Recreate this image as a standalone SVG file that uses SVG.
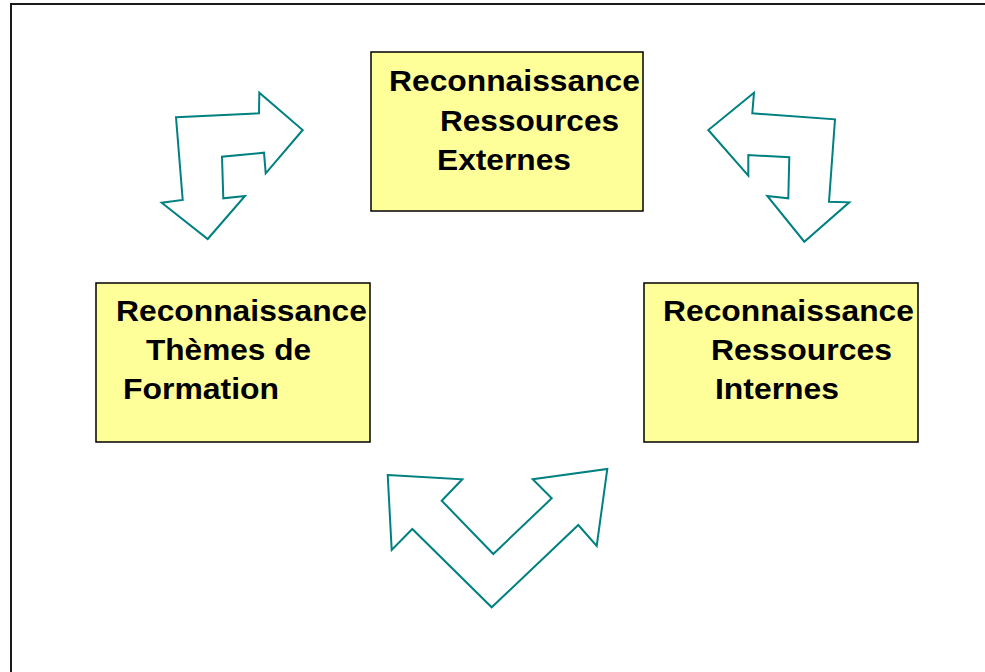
<svg xmlns="http://www.w3.org/2000/svg" width="985" height="672" viewBox="0 0 985 672">
<style>
.frame{fill:none;stroke:#1a1a1a;stroke-width:2}
.box{fill:#FFFF99;stroke:#000;stroke-width:1.5}
.lbl{font-family:"Liberation Sans",Arial,sans-serif;font-weight:bold;font-size:29px;fill:#000}
.arr{fill:#fff;stroke:#008080;stroke-width:2;stroke-linejoin:miter}
</style>
<rect width="985" height="672" fill="#fff"/>
<rect class="frame" x="11" y="4" width="990" height="690"/>
<g id="connectors">
<polygon class="arr" points="176,117.3 259,113.3 259.3,92.7 302.7,130 265.7,173.3 264,152.7 222,156.7 223.3,198.3 245,196 207.7,239 161.7,202.7 182.7,200"/>
<polygon class="arr" points="752.3,113.3 754,92.7 708.3,130 748.3,175.7 748.3,155 789.3,157.3 788.3,198.3 767.3,196 804.3,241.7 849.3,202.3 829,201.7 835,119.3"/>
<polygon class="arr" points="387.7,475 462.3,479.3 441.7,500.7 493.3,554 551.7,498.3 532.7,479.3 607.3,469 596.7,546 578.3,525 491.7,607.3 412.3,529 391.7,550"/>
</g>
<g id="node-externes">
<rect class="box" x="371" y="52" width="272" height="159"/>
<text class="lbl" x="389" y="91" textLength="251" lengthAdjust="spacingAndGlyphs">Reconnaissance</text>
<text class="lbl" x="440" y="131" textLength="179" lengthAdjust="spacingAndGlyphs">Ressources</text>
<text class="lbl" x="437" y="170" textLength="134" lengthAdjust="spacingAndGlyphs">Externes</text>
</g>
<g id="node-formation">
<rect class="box" x="96" y="283" width="274" height="159"/>
<text class="lbl" x="116" y="321" textLength="251" lengthAdjust="spacingAndGlyphs">Reconnaissance</text>
<text class="lbl" x="146" y="360" textLength="165" lengthAdjust="spacingAndGlyphs">Thèmes de</text>
<text class="lbl" x="123" y="399" textLength="156" lengthAdjust="spacingAndGlyphs">Formation</text>
</g>
<g id="node-internes">
<rect class="box" x="644" y="283" width="274" height="159"/>
<text class="lbl" x="663" y="321" textLength="251" lengthAdjust="spacingAndGlyphs">Reconnaissance</text>
<text class="lbl" x="711" y="360" textLength="181" lengthAdjust="spacingAndGlyphs">Ressources</text>
<text class="lbl" x="715" y="399" textLength="124" lengthAdjust="spacingAndGlyphs">Internes</text>
</g>
</svg>
